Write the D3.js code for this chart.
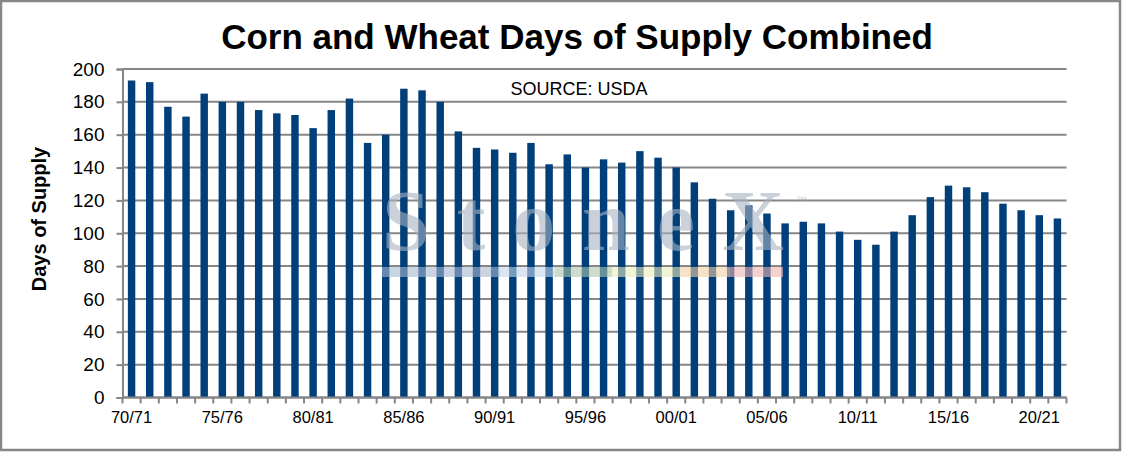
<!DOCTYPE html>
<html>
<head>
<meta charset="utf-8">
<script src="https://cdn.jsdelivr.net/npm/d3@7"></script>
<style>
  html, body { margin: 0; padding: 0; background: #fff; }
  text { font-family: "Liberation Sans", Arial, sans-serif; }
</style>
</head>
<body>
<div id="chart"></div>
<script>
// Campagnes (70/71 -> 21/22)
const seasons = [
  "70/71","71/72","72/73","73/74","74/75","75/76","76/77","77/78","78/79","79/80",
  "80/81","81/82","82/83","83/84","84/85","85/86","86/87","87/88","88/89","89/90",
  "90/91","91/92","92/93","93/94","94/95","95/96","96/97","97/98","98/99","99/00",
  "00/01","01/02","02/03","03/04","04/05","05/06","06/07","07/08","08/09","09/10",
  "10/11","11/12","12/13","13/14","14/15","15/16","16/17","17/18","18/19","19/20",
  "20/21","21/22"
];

// Jours d'approvisionnement, maïs + blé
const daysOfSupply = [
  193, 192, 177, 171, 185, 180, 180, 175, 173, 172,
  164, 175, 182, 155, 160, 188, 187, 180, 162, 152,
  151, 149, 155, 142, 148, 140, 145, 143, 150, 146,
  140, 131, 121, 114, 117, 112, 106, 107, 106, 101,
  96, 93, 101, 111, 122, 129, 128, 125, 118, 114,
  111, 109
];

// Libellés affichés sur l'axe des x
const shownLabels = ["70/71","75/76","80/81","85/86","90/91","95/96","00/01","05/06","10/11","15/16","20/21"];
const yTicks = [0, 20, 40, 60, 80, 100, 120, 140, 160, 180, 200];

const width = 1122, height = 452;
const margin = { top: 69, right: 55.5, bottom: 54.5, left: 122.5 };
const innerW = width - margin.left - margin.right,
    innerH = height - margin.top - margin.bottom;

const svg = d3.select("#chart")
    .append("svg")
    .attr("width", width)
    .attr("height", height);

// Cadre extérieur
svg.append("rect")
    .attr("x", 1).attr("y", 1)
    .attr("width", width - 3).attr("height", height - 3)
    .attr("fill", "#fff")
    .attr("stroke", "#878787")
    .attr("stroke-width", 2.5);

const x = d3.scaleBand()
    .domain(seasons)
    .range([0, innerW])
    .paddingInner(0.59)
    .paddingOuter(0.295);

const y = d3.scaleLinear()
    .domain([0, 200])
    .range([innerH, 0]);

const g = svg.append("g")
    .attr("transform", `translate(${margin.left},${margin.top})`);

// Filigrane StoneX
const wm = svg.append("g").attr("opacity", 0.6);
const stripColors = ["#a9b9d2", "#c3d8ec", "#adc6ad", "#ecedbb", "#f3d2a8", "#eeb5b5"];
const stripW = [118, 55, 57, 68, 50, 53];
let sx = 382;
stripColors.forEach((c, i) => {
    wm.append("rect")
        .attr("x", sx).attr("y", 267)
        .attr("width", stripW[i]).attr("height", 10)
        .attr("fill", c);
    sx += stripW[i];
});
wm.append("text")
    .attr("x", 382).attr("y", 250)
    .attr("textLength", 402)
    .attr("lengthAdjust", "spacing")
    .style("font-family", "'Liberation Serif', 'DejaVu Serif', serif")
    .style("font-size", "86px")
    .style("font-weight", "bold")
    .attr("fill", "#a7b3c3")
    .text("StoneX");
wm.append("text")
    .attr("x", 796).attr("y", 204)
    .style("font-size", "11px")
    .attr("fill", "#a7b3c3")
    .text("™");

// Quadrillage
g.append("g")
    .selectAll("line")
    .data(yTicks)
    .enter()
    .append("line")
    .attr("x1", 0).attr("x2", innerW)
    .attr("y1", d => y(d)).attr("y2", d => y(d))
    .attr("stroke", "#868686")
    .attr("stroke-width", 2);

// Barres
g.append("g")
    .selectAll("rect")
    .data(seasons)
    .enter()
    .append("rect")
    .attr("x", d => x(d))
    .attr("y", (d, i) => y(daysOfSupply[i]))
    .attr("width", x.bandwidth())
    .attr("height", (d, i) => innerH - y(daysOfSupply[i]))
    .attr("fill", "#003f7a");

// Axe y
const yAxis = g.append("g")
    .call(d3.axisLeft(y).tickValues(yTicks).tickSize(6).tickPadding(12));
yAxis.select(".domain").attr("stroke", "#868686").attr("stroke-width", 2);
yAxis.selectAll(".tick line").attr("stroke", "#868686").attr("stroke-width", 2);
yAxis.selectAll(".tick text")
    .style("font-size", "19px")
    .attr("fill", "#000");

// Axe x : graduations entre les catégories
const step = x.step();
g.append("line")
    .attr("x1", 0).attr("x2", innerW)
    .attr("y1", innerH).attr("y2", innerH)
    .attr("stroke", "#868686")
    .attr("stroke-width", 2);
g.append("g")
    .selectAll("line")
    .data(d3.range(seasons.length + 1))
    .enter()
    .append("line")
    .attr("x1", i => i * step).attr("x2", i => i * step)
    .attr("y1", innerH).attr("y2", innerH + 6)
    .attr("stroke", "#868686")
    .attr("stroke-width", 2);
g.append("g")
    .selectAll("text")
    .data(shownLabels)
    .enter()
    .append("text")
    .attr("x", d => x(d) + x.bandwidth() / 2)
    .attr("y", innerH + 25)
    .attr("text-anchor", "middle")
    .style("font-size", "16.5px")
    .attr("fill", "#000")
    .text(d => d);

// Titres
svg.append("text")
    .attr("x", 577).attr("y", 49)
    .attr("text-anchor", "middle")
    .style("font-size", "35px")
    .style("font-weight", "bold")
    .text("Corn and Wheat Days of Supply Combined");

svg.append("text")
    .attr("x", 579).attr("y", 95)
    .attr("text-anchor", "middle")
    .style("font-size", "18px")
    .text("SOURCE: USDA");

svg.append("text")
    .attr("transform", "translate(46,219) rotate(-90)")
    .attr("text-anchor", "middle")
    .style("font-size", "20px")
    .style("font-weight", "bold")
    .text("Days of Supply");
</script>
</body>
</html>
